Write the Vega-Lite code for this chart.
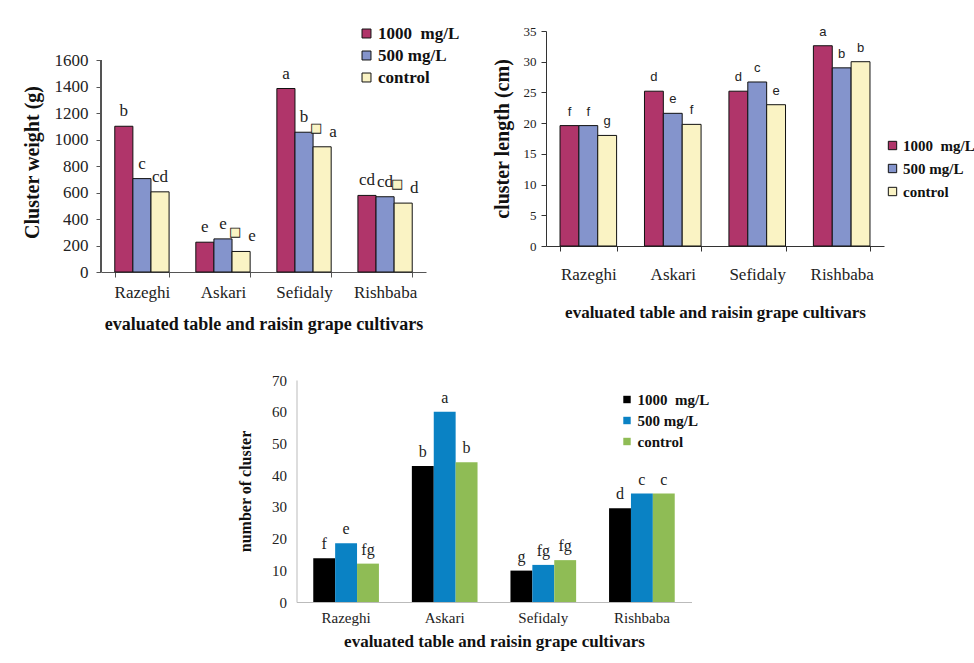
{
  "$schema": "https://vega.github.io/schema/vega-lite/v6.json",
  "padding": {"left": 22, "top": 25, "right": 0, "bottom": 5},
  "background": "white",
  "config": {"view": {"stroke": null}, "font": "Liberation Serif"},
  "datasets": {
    "weight": [
      {"cultivar": "Razeghi", "treatment": "1000\u00a0 mg/L", "value": 1100, "label": "b", "key": false},
      {"cultivar": "Razeghi", "treatment": "500 mg/L", "value": 705, "label": "c", "key": false},
      {"cultivar": "Razeghi", "treatment": "control", "value": 605, "label": "cd", "key": false},
      {"cultivar": "Askari", "treatment": "1000\u00a0 mg/L", "value": 225, "label": "e", "key": false},
      {"cultivar": "Askari", "treatment": "500 mg/L", "value": 250, "label": "e", "key": false},
      {"cultivar": "Askari", "treatment": "control", "value": 155, "label": "e", "key": true},
      {"cultivar": "Sefidaly", "treatment": "1000\u00a0 mg/L", "value": 1385, "label": "a", "key": false},
      {"cultivar": "Sefidaly", "treatment": "500 mg/L", "value": 1055, "label": "b", "key": false},
      {"cultivar": "Sefidaly", "treatment": "control", "value": 945, "label": "a", "key": true},
      {"cultivar": "Rishbaba", "treatment": "1000\u00a0 mg/L", "value": 578, "label": "cd", "key": false},
      {"cultivar": "Rishbaba", "treatment": "500 mg/L", "value": 568, "label": "cd", "key": false},
      {"cultivar": "Rishbaba", "treatment": "control", "value": 520, "label": "d", "key": true}
    ],
    "length": [
      {"cultivar": "Razeghi", "treatment": "1000\u00a0 mg/L", "value": 19.6, "label": "f"},
      {"cultivar": "Razeghi", "treatment": "500 mg/L", "value": 19.6, "label": "f"},
      {"cultivar": "Razeghi", "treatment": "control", "value": 18.0, "label": "g"},
      {"cultivar": "Askari", "treatment": "1000\u00a0 mg/L", "value": 25.2, "label": "d"},
      {"cultivar": "Askari", "treatment": "500 mg/L", "value": 21.6, "label": "e"},
      {"cultivar": "Askari", "treatment": "control", "value": 19.8, "label": "f"},
      {"cultivar": "Sefidaly", "treatment": "1000\u00a0 mg/L", "value": 25.2, "label": "d"},
      {"cultivar": "Sefidaly", "treatment": "500 mg/L", "value": 26.7, "label": "c"},
      {"cultivar": "Sefidaly", "treatment": "control", "value": 23.0, "label": "e"},
      {"cultivar": "Rishbaba", "treatment": "1000\u00a0 mg/L", "value": 32.6, "label": "a"},
      {"cultivar": "Rishbaba", "treatment": "500 mg/L", "value": 29.0, "label": "b"},
      {"cultivar": "Rishbaba", "treatment": "control", "value": 30.0, "label": "b"}
    ],
    "number": [
      {"cultivar": "Razeghi", "treatment": "1000\u00a0 mg/L", "value": 13.8, "label": "f"},
      {"cultivar": "Razeghi", "treatment": "500 mg/L", "value": 18.5, "label": "e"},
      {"cultivar": "Razeghi", "treatment": "control", "value": 12.1, "label": "fg"},
      {"cultivar": "Askari", "treatment": "1000\u00a0 mg/L", "value": 42.9, "label": "b"},
      {"cultivar": "Askari", "treatment": "500 mg/L", "value": 60.0, "label": "a"},
      {"cultivar": "Askari", "treatment": "control", "value": 44.1, "label": "b"},
      {"cultivar": "Sefidaly", "treatment": "1000\u00a0 mg/L", "value": 9.9, "label": "g"},
      {"cultivar": "Sefidaly", "treatment": "500 mg/L", "value": 11.7, "label": "fg"},
      {"cultivar": "Sefidaly", "treatment": "control", "value": 13.2, "label": "fg"},
      {"cultivar": "Rishbaba", "treatment": "1000\u00a0 mg/L", "value": 29.6, "label": "d"},
      {"cultivar": "Rishbaba", "treatment": "500 mg/L", "value": 34.2, "label": "c"},
      {"cultivar": "Rishbaba", "treatment": "control", "value": 34.2, "label": "c"}
    ]
  },
  "center": true,
  "spacing": -11,
  "resolve": {"scale": {"color": "independent", "x": "independent", "y": "independent", "xOffset": "independent"}, "legend": {"color": "independent"}},
  "vconcat": [
    {
      "spacing": 32,
      "resolve": {"scale": {"color": "independent", "x": "independent", "y": "independent", "xOffset": "independent"}, "legend": {"color": "independent"}},
      "hconcat": [
        {
          "width": 325,
          "height": 241,
          "data": {"name": "weight"},
          "resolve": {"scale": {"x": "independent"}},
          "encoding": {
            "y": {"field": "value", "type": "quantitative", "scale": {"domain": [0, 1819]},
              "axis": {"title": "Cluster weight (g)", "format": "d", "values": [0, 200, 400, 600, 800, 1000, 1200, 1400, 1600], "grid": false, "tickSize": 5, "domain": false,
                "tickColor": "#555", "labelFont": "Liberation Serif", "labelFontSize": 17, "labelColor": "#222",
                "labelPadding": 8, "titleFont": "Liberation Serif", "titleFontSize": 20, "titleFontWeight": "bold", "titlePadding": 12, "titleColor": "#111", "titleY": 131}}
          },
          "layer": [
            {
              "mark": {"type": "rule", "color": "#555", "strokeWidth": 1},
              "encoding": {
                "x": {"datum": 0, "type": "quantitative", "scale": {"domain": [0, 1]}, "axis": null},
                "y": {"datum": 0},
                "y2": {"datum": 1600}
              }
            },
            {
              "encoding": {
                "x": {"field": "cultivar", "type": "nominal", "sort": ["Razeghi", "Askari", "Sefidaly", "Rishbaba"],
                  "scale": {"paddingInner": 0.33, "paddingOuter": 0.17},
                  "axis": {"title": "evaluated table and raisin grape cultivars", "labelAngle": 0, "tickBand": "extent", "tickSize": 5,
                    "domainColor": "#555", "tickColor": "#555", "labelFont": "Liberation Serif", "labelFontSize": 17, "labelColor": "#222",
                    "labelPadding": 7, "titleFont": "Liberation Serif", "titleFontSize": 18, "titleFontWeight": "bold", "titlePadding": 15, "titleColor": "#111"}},
                "xOffset": {"field": "treatment", "type": "nominal", "sort": ["1000\u00a0 mg/L", "500 mg/L", "control"]}
              },
              "layer": [
                {
                  "mark": {"type": "bar", "stroke": "#111", "strokeWidth": 1},
                  "encoding": {
                    "color": {"field": "treatment", "type": "nominal", "sort": ["1000\u00a0 mg/L", "500 mg/L", "control"],
                      "scale": {"domain": ["1000\u00a0 mg/L", "500 mg/L", "control"], "range": ["#B0356A", "#8494CC", "#FAF3C4"]},
                      "legend": {"title": null, "orient": "none", "legendX": 257, "legendY": -6, "symbolType": "square", "symbolSize": 80,
                        "symbolStrokeColor": "#111", "symbolStrokeWidth": 1, "labelFont": "Liberation Serif", "labelFontSize": 17,
                        "labelFontWeight": "bold", "labelColor": "#111", "rowPadding": 4, "labelOffset": 3}}
                  }
                },
                {
                  "transform": [{"filter": "!datum.key"}],
                  "mark": {"type": "text", "baseline": "alphabetic", "dy": -10, "font": "Liberation Serif", "fontSize": 17, "color": "#222"},
                  "encoding": {"text": {"field": "label"}}
                },
                {
                  "transform": [{"filter": "datum.key"}],
                  "mark": {"type": "text", "baseline": "alphabetic", "dy": -10, "dx": 11, "font": "Liberation Serif", "fontSize": 17, "color": "#222"},
                  "encoding": {"text": {"field": "label"}}
                },
                {
                  "transform": [{"filter": "datum.key"}],
                  "mark": {"type": "text", "text": "\u25a0", "baseline": "middle", "dy": -19, "dx": -6, "font": "DejaVu Sans", "fontSize": 12, "fill": "#FAF3C4", "stroke": "#111", "strokeWidth": 0.8}
                }
              ]
            }
          ]
        },
        {
          "width": 338,
          "height": 215,
          "data": {"name": "length"},
          "encoding": {
            "x": {"field": "cultivar", "type": "nominal", "sort": ["Razeghi", "Askari", "Sefidaly", "Rishbaba"],
              "scale": {"paddingInner": 0.33, "paddingOuter": 0.166},
              "axis": {"title": "evaluated table  and raisin grape cultivars", "labelAngle": 0, "tickBand": "extent", "tickSize": 5,
                "domainColor": "#333", "tickColor": "#333", "labelFont": "Liberation Serif", "labelFontSize": 17, "labelColor": "#222",
                "labelPadding": 15, "titleFont": "Liberation Serif", "titleFontSize": 17, "titleFontWeight": "bold", "titlePadding": 22, "titleColor": "#111"}},
            "xOffset": {"field": "treatment", "type": "nominal", "sort": ["1000\u00a0 mg/L", "500 mg/L", "control"]},
            "y": {"field": "value", "type": "quantitative", "scale": {"domain": [0, 35]},
              "axis": {"title": "cluster length (cm)", "values": [0, 5, 10, 15, 20, 25, 30, 35], "grid": false, "tickSize": 5,
                "domainColor": "#333", "tickColor": "#333", "labelFont": "Liberation Serif", "labelFontSize": 13, "labelColor": "#222",
                "labelPadding": 5, "titleFont": "Liberation Serif", "titleFontSize": 20, "titleFontWeight": "bold", "titlePadding": 11, "titleColor": "#111"}}
          },
          "layer": [
            {
              "mark": {"type": "bar", "stroke": "#111", "strokeWidth": 1},
              "encoding": {
                "color": {"field": "treatment", "type": "nominal", "sort": ["1000\u00a0 mg/L", "500 mg/L", "control"],
                  "scale": {"domain": ["1000\u00a0 mg/L", "500 mg/L", "control"], "range": ["#B0356A", "#8494CC", "#FAF3C4"]},
                  "legend": {"title": null, "orient": "none", "legendX": 339, "legendY": 107, "symbolType": "square", "symbolSize": 70,
                    "symbolStrokeColor": "#111", "symbolStrokeWidth": 1, "labelFont": "Liberation Serif", "labelFontSize": 15,
                    "labelFontWeight": "bold", "labelColor": "#111", "rowPadding": 7, "labelOffset": 3}}
              }
            },
            {
              "mark": {"type": "text", "baseline": "alphabetic", "dy": -10, "font": "Liberation Sans", "fontSize": 13, "color": "#222"},
              "encoding": {"text": {"field": "label"}}
            }
          ]
        }
      ]
    },
    {
      "width": 395,
      "height": 222,
      "data": {"name": "number"},
      "encoding": {
        "x": {"field": "cultivar", "type": "nominal", "sort": ["Razeghi", "Askari", "Sefidaly", "Rishbaba"],
          "scale": {"paddingInner": 0.334, "paddingOuter": 0.17},
          "axis": {"title": "evaluated table and raisin grape cultivars", "labelAngle": 0, "ticks": false,
            "domainColor": "#BBBBBB", "labelFont": "Liberation Serif", "labelFontSize": 15, "labelColor": "#222",
            "labelPadding": 8, "titleFont": "Liberation Serif", "titleFontSize": 17, "titleFontWeight": "bold", "titlePadding": 8, "titleColor": "#111"}},
        "xOffset": {"field": "treatment", "type": "nominal", "sort": ["1000\u00a0 mg/L", "500 mg/L", "control"]},
        "y": {"field": "value", "type": "quantitative", "scale": {"domain": [0, 70]},
          "axis": {"title": "number of cluster", "values": [0, 10, 20, 30, 40, 50, 60, 70], "grid": false, "ticks": false,
            "domainColor": "#BBBBBB", "labelFont": "Liberation Serif", "labelFontSize": 15, "labelColor": "#222",
            "labelPadding": 10, "titleFont": "Liberation Serif", "titleFontSize": 16, "titleFontWeight": "bold", "titlePadding": 18, "titleColor": "#111"}}
      },
      "layer": [
        {
          "mark": {"type": "bar"},
          "encoding": {
            "color": {"field": "treatment", "type": "nominal", "sort": ["1000\u00a0 mg/L", "500 mg/L", "control"],
              "scale": {"domain": ["1000\u00a0 mg/L", "500 mg/L", "control"], "range": ["#000000", "#0A82C4", "#8FBC55"]},
              "legend": {"title": null, "orient": "none", "legendX": 253, "legendY": -58, "padding": 70, "symbolType": "square", "symbolSize": 55,
                "labelFont": "Liberation Serif", "labelFontSize": 15, "labelFontWeight": "bold", "labelColor": "#111", "rowPadding": 5, "labelOffset": 3}}
          }
        },
        {
          "mark": {"type": "text", "baseline": "alphabetic", "dy": -9, "font": "Liberation Serif", "fontSize": 16, "color": "#222"},
          "encoding": {"text": {"field": "label"}}
        }
      ]
    }
  ]
}
